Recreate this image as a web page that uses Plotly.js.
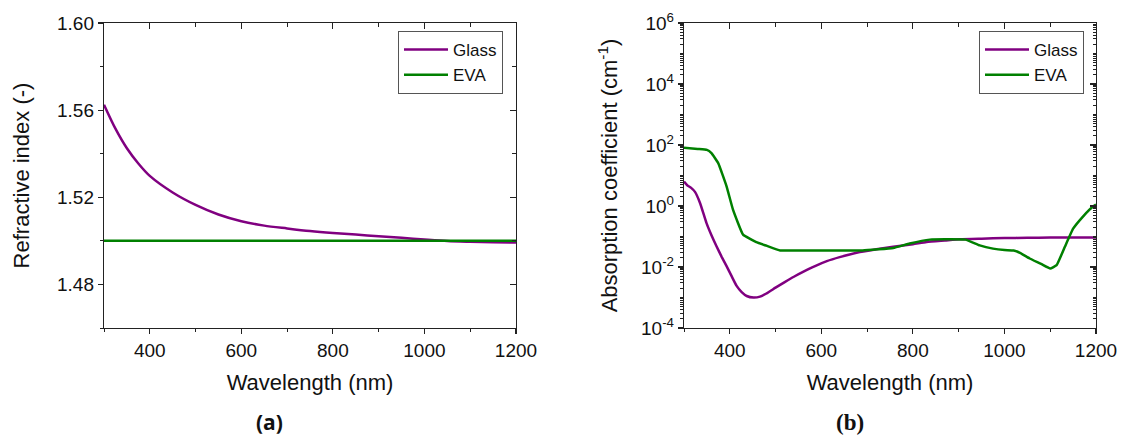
<!DOCTYPE html>
<html>
<head>
<meta charset="utf-8">
<script src="https://cdn.plot.ly/plotly-3.0.1.min.js"></script>
<style>
html,body{margin:0;padding:0;background:#fff;}
#wrap{position:relative;width:1126px;height:438px;}
#chart{width:1126px;height:438px;}
.frame{position:absolute;box-sizing:border-box;border:1.5px solid #222;pointer-events:none;}
</style>
</head>
<body>
<div id="wrap"><div id="chart"></div></div>
<script>
// ---- (a) refractive index ----
const wlIndex = [300,325,350,375,400,450,500,550,600,650,700,750,800,850,900,950,1000,1050,1100,1150,1200];
const glassIndex = [1.5625,1.5515,1.5425,1.5355,1.5298,1.5222,1.5165,1.5121,1.5090,1.5070,1.5057,1.5045,1.5036,1.5029,1.5021,1.5014,1.5006,1.4999,1.4996,1.4994,1.4992];
const evaIndex = [1.500,1.500,1.500,1.500,1.500,1.500,1.500,1.500,1.500,1.500,1.500,1.500,1.500,1.500,1.500,1.500,1.500,1.500,1.500,1.500,1.500];

// ---- (b) absorption coefficient (cm^-1) ----
const wlGlassAbs = [300,307,315,324,335,349,360,371,382,393,404,415,426,437,452,466,480,500,520,540,560,585,612,640,684,720,757,800,830,870,903,950,1000,1050,1100,1150,1200];
const glassAbs = [6.3,4.8,4.0,2.9,1.26,0.28,0.11,0.048,0.022,0.0107,0.0050,0.0024,0.0015,0.00112,0.0010,0.00107,0.00135,0.0021,0.0032,0.0048,0.0069,0.0105,0.0155,0.021,0.031,0.038,0.046,0.056,0.066,0.074,0.081,0.085,0.089,0.091,0.092,0.092,0.092];
const wlEvaAbs = [300,330,350,360,375,393,407,429,458,480,510,600,690,757,793,837,870,915,946,975,1000,1020,1034,1055,1080,1100,1114,1132,1150,1172,1194,1200];
const evaAbs = [81,74,69,54,25,4.4,0.76,0.115,0.065,0.050,0.035,0.035,0.035,0.042,0.059,0.079,0.081,0.079,0.051,0.040,0.036,0.035,0.029,0.019,0.0126,0.0089,0.0115,0.046,0.18,0.46,0.98,1.12];

// ---- axis ranges and tick labels ----
const wlRange = [300, 1200];
const indexRange = [1.46, 1.60];
const absRange = [1e-4, 1e6];
const indexTicks = [1.48,1.52,1.56,1.60];
const indexTickText = ['1.48','1.52','1.56','1.60'];
const absTicks = [1e-4,1e-2,1,1e2,1e4,1e6];
const absTickText = ['10<sup>-4</sup>','10<sup>-2</sup>','10<sup>0</sup>','10<sup>2</sup>','10<sup>4</sup>','10<sup>6</sup>'];
const seriesNames = ['Glass','EVA'];
const seriesColors = ['#800080','#008000'];

// minor tick positions of the log axis (1..9 x each decade)
const absMinor = [];
for (let e = -4; e < 6; e++) { for (let m = 1; m < 10; m++) { absMinor.push(m * Math.pow(10, e)); } }

const FONT = 'Liberation Sans, Arial, sans-serif';
const AX = '#222';

const traces = [
  {x: wlIndex, y: glassIndex, name: seriesNames[0], mode: 'lines', line: {color: seriesColors[0], width: 2.5, shape: 'spline', smoothing: 0.8}, xaxis: 'x', yaxis: 'y', legend: 'legend'},
  {x: wlIndex, y: evaIndex, name: seriesNames[1], mode: 'lines', line: {color: seriesColors[1], width: 2.5}, xaxis: 'x', yaxis: 'y', legend: 'legend'},
  {x: wlGlassAbs, y: glassAbs, name: seriesNames[0], mode: 'lines', line: {color: seriesColors[0], width: 2.5, shape: 'spline', smoothing: 0.5}, xaxis: 'x2', yaxis: 'y2', legend: 'legend2'},
  {x: wlEvaAbs, y: evaAbs, name: seriesNames[1], mode: 'lines', line: {color: seriesColors[1], width: 2.5, shape: 'spline', smoothing: 0.3}, xaxis: 'x2', yaxis: 'y2', legend: 'legend2'},
  // invisible carriers for the top / right tick axes
  {x: wlIndex, y: evaIndex, mode: 'lines', line: {width: 0}, opacity: 0, showlegend: false, hoverinfo: 'skip', xaxis: 'x3', yaxis: 'y3'},
  {x: wlEvaAbs, y: evaAbs, mode: 'lines', line: {width: 0}, opacity: 0, showlegend: false, hoverinfo: 'skip', xaxis: 'x4', yaxis: 'y4'}
];

const W = 1126, H = 438;
const plotA = {l: 104, r: 516}, plotB = {l: 684, r: 1096}, plotT = 23, plotBtm = 328;
const xDomA = [plotA.l/W, plotA.r/W], xDomB = [plotB.l/W, plotB.r/W];
const yDom = [1 - plotBtm/H, 1 - plotT/H];
const logRange = [Math.log10(absRange[0]), Math.log10(absRange[1])];

const baseX = {
  range: wlRange, tick0: 0, dtick: 200, showline: true, mirror: true, linecolor: AX, linewidth: 1.2,
  ticks: 'outside', ticklen: 5, tickwidth: 1.2, tickcolor: AX, showgrid: false, zeroline: false,
  tickfont: {family: FONT, size: 19, color: '#111'},
  minor: {dtick: 100, ticks: 'outside', ticklen: 3, tickwidth: 1, tickcolor: AX, showgrid: false},
  title: {text: 'Wavelength (nm)', font: {family: FONT, size: 22, color: '#111'}, standoff: 14}
};
const topX = {
  range: wlRange, tick0: 0, dtick: 200, showline: false, side: 'top',
  ticks: 'inside', ticklen: 6, tickwidth: 1.2, tickcolor: AX, showgrid: false, zeroline: false, showticklabels: false,
  minor: {dtick: 100, ticks: 'inside', ticklen: 4, tickwidth: 1, tickcolor: AX, showgrid: false}
};

const layout = {
  width: W, height: H, margin: {l: 0, r: 0, t: 0, b: 0},
  paper_bgcolor: '#fff', plot_bgcolor: 'rgba(0,0,0,0)',
  font: {family: FONT, color: '#111'},
  xaxis: Object.assign({}, baseX, {domain: xDomA, anchor: 'y'}),
  yaxis: {
    domain: yDom, anchor: 'x', range: indexRange, tickmode: 'array', tickvals: indexTicks, ticktext: indexTickText,
    showline: true, mirror: true, linecolor: AX, linewidth: 1.2, ticks: 'outside', ticklen: 5, tickwidth: 1.2, tickcolor: AX,
    showgrid: false, zeroline: false, tickfont: {family: FONT, size: 19, color: '#111'},
    minor: {tickmode: 'linear', tick0: 1.46, dtick: 0.02, ticks: 'outside', ticklen: 3, tickwidth: 1, tickcolor: AX, showgrid: false},
    title: {text: 'Refractive index (-)', font: {family: FONT, size: 22, color: '#111'}, standoff: 21}
  },
  xaxis3: Object.assign({}, topX, {domain: xDomA, anchor: 'y3'}),
  yaxis3: {
    domain: yDom, anchor: 'x3', side: 'right', range: indexRange, tickmode: 'array', tickvals: indexTicks,
    showline: false, ticks: 'inside', ticklen: 6, tickwidth: 1.2, tickcolor: AX,
    showgrid: false, zeroline: false, showticklabels: false,
    minor: {tickmode: 'linear', tick0: 1.46, dtick: 0.02, ticks: 'inside', ticklen: 4, tickwidth: 1, tickcolor: AX, showgrid: false}
  },
  xaxis2: Object.assign({}, baseX, {domain: xDomB, anchor: 'y2'}),
  yaxis2: {
    domain: yDom, anchor: 'x2', type: 'log', range: logRange, tickmode: 'array', tickvals: absTicks, ticktext: absTickText,
    showline: true, mirror: true, linecolor: AX, linewidth: 1.2, ticks: 'outside', ticklen: 5, tickwidth: 1.2, tickcolor: AX,
    showgrid: false, zeroline: false, tickfont: {family: FONT, size: 19, color: '#111'},
    minor: {tickmode: 'array', tickvals: absMinor, ticks: 'outside', ticklen: 3, tickwidth: 1, tickcolor: AX, showgrid: false},
    title: {text: 'Absorption coefficient (cm<sup>-1</sup>)', font: {family: FONT, size: 22, color: '#111'}, standoff: 17}
  },
  xaxis4: Object.assign({}, topX, {domain: xDomB, anchor: 'y4'}),
  yaxis4: {
    domain: yDom, anchor: 'x4', side: 'right', type: 'log', range: logRange, tickmode: 'array', tickvals: absTicks,
    showline: false, ticks: 'inside', ticklen: 6, tickwidth: 1.2, tickcolor: AX,
    showgrid: false, zeroline: false, showticklabels: false,
    minor: {tickmode: 'array', tickvals: absMinor, ticks: 'inside', ticklen: 3, tickwidth: 1, tickcolor: AX, showgrid: false}
  },
  legend: {x: 398/W, y: 1 - 31/H, xanchor: 'left', yanchor: 'top', bgcolor: '#fff', bordercolor: '#555', borderwidth: 1,
    font: {family: FONT, size: 17, color: '#111'}, tracegroupgap: 0, itemwidth: 44},
  legend2: {x: 979/W, y: 1 - 31/H, xanchor: 'left', yanchor: 'top', bgcolor: '#fff', bordercolor: '#555', borderwidth: 1,
    font: {family: FONT, size: 17, color: '#111'}, tracegroupgap: 0, itemwidth: 44},
  annotations: [
    {text: '<b>(a)</b>', xref: 'paper', yref: 'paper', x: 269/W, y: 1 - 422/H, xanchor: 'center', yanchor: 'middle', showarrow: false,
      font: {family: 'Open Sans, DejaVu Sans, sans-serif', size: 21, color: '#111'}},
    {text: '<b>(b)</b>', xref: 'paper', yref: 'paper', x: 850/W, y: 1 - 422/H, xanchor: 'center', yanchor: 'middle', showarrow: false,
      font: {family: 'Liberation Serif, Times New Roman, serif', size: 23, color: '#111'}}
  ],
  showlegend: true
};

Plotly.newPlot('chart', traces, layout, {displayModeBar: false, staticPlot: true});

// panel borders, placed on the same plot-area rectangles as the axis domains
const wrap = document.getElementById('wrap');
[plotA, plotB].forEach(p => {
  const d = document.createElement('div');
  d.className = 'frame';
  d.style.left = (p.l - 1) + 'px';
  d.style.top = (plotT - 1) + 'px';
  d.style.width = (p.r - p.l + 2) + 'px';
  d.style.height = (plotBtm - plotT + 2) + 'px';
  wrap.appendChild(d);
});
</script>
</body>
</html>
